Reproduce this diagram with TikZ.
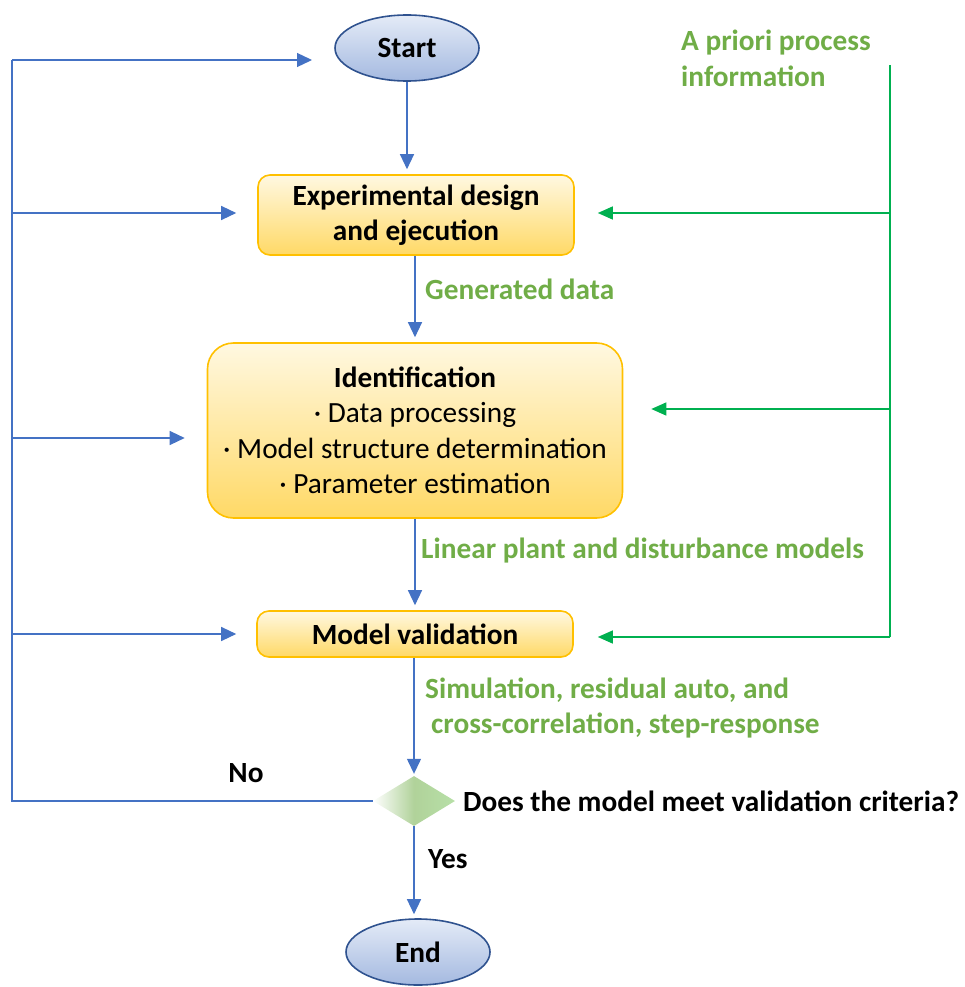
\documentclass[tikz,border=0pt]{standalone}
\usepackage{fontspec}
\setmainfont{Carlito}
\usepackage{tikz}
\usetikzlibrary{arrows.meta, shapes.geometric, positioning, calc}
\definecolor{flowblue}{HTML}{4472C4}
\definecolor{darkblue}{HTML}{2F528F}
\definecolor{priorigreen}{HTML}{00B050}
\definecolor{labelgreen}{HTML}{70AD47}
\definecolor{boxborder}{HTML}{FFC000}
\definecolor{boxtop}{HTML}{FFF8E1}
\definecolor{boxbottom}{HTML}{FFD966}
\definecolor{elltop}{HTML}{E4EBF7}
\definecolor{ellbottom}{HTML}{A4B9E0}
\newcommand{\diagfont}{\fontsize{29.3}{35.5}\selectfont}
\tikzset{
	terminal/.style={ellipse, draw=darkblue, line width=1.6pt, top color=elltop, bottom color=ellbottom,
		minimum width=144pt, minimum height=66pt, font=\diagfont\bfseries},
	stepbox/.style={rectangle, rounded corners=12pt, draw=boxborder, line width=1.6pt,
		top color=boxtop, bottom color=boxbottom, align=center, font=\diagfont\bfseries},
	decision/.style={diamond, minimum width=82pt, minimum height=50pt, inner sep=0pt,
		left color=white, right color=green!15!labelgreen!45, middle color=labelgreen!55},
	flow/.style={draw=flowblue, line width=1.3pt, -{Triangle[length=15pt,width=14pt]}, color=flowblue},
	flowline/.style={draw=flowblue, line width=1.3pt},
	gflow/.style={draw=priorigreen, line width=1.3pt, -{Triangle[length=15pt,width=13pt]}, color=priorigreen},
	gline/.style={draw=priorigreen, line width=1.3pt},
	glabel/.style={text=labelgreen, font=\diagfont\bfseries, align=left, anchor=west, inner sep=0pt},
	blabel/.style={font=\diagfont\bfseries, inner sep=0pt},
}

\begin{document}
\begin{tikzpicture}[x=1pt, y=-1pt]
\useasboundingbox (0,0) rectangle (965,987);

% main column
\node[terminal] (start) at (407,48) {Start};
\node[stepbox, minimum width=316pt, minimum height=80pt] (design) at (416,215)
	{Experimental design\\and ejecution};
\node[stepbox, rounded corners=26pt, minimum width=415pt, minimum height=175pt] (ident) at (415,430.5)
	{Identification\\{\mdseries · Data processing}\\{\mdseries · Model structure determination}\\{\mdseries · Parameter estimation}};
\node[stepbox, minimum width=316pt, minimum height=46pt] (valid) at (415,634) {Model validation};
\node[decision] (check) at (414,801) {};
\node[terminal] (stop) at (418,952) {End};

\draw[flow, shorten >=5pt] (start) -- (start |- design.north);
\draw[flow, shorten >=5pt] (design.south -| ident) -- (ident.north);
\draw[flow, shorten >=5pt] (ident.south -| valid) -- (valid.north);
\draw[flow, shorten >=2pt] (valid.south -| check) -- (check.north);
\draw[flow, shorten >=4pt] (check.south) -- (check.south |- stop.north);

% labels
\node[glabel] (gen) at (425,289) {Generated data};
\node[glabel] (lin) at (421,551) {Linear plant and disturbance models};
\node[glabel] (sim) at (425,708) {Simulation, residual auto, and\\\hspace*{6pt}cross-correlation, step-response};
\node[blabel, anchor=west] (ask) at (463,801) {Does the model meet validation criteria?};
\node[blabel] (no) at (246,773) {No};
\node[blabel, anchor=west] (yes) at (428,859) {Yes};

% feedback on the left
\coordinate (l0) at (12,60);
\coordinate (l1) at (12,213);
\coordinate (l2) at (12,438);
\coordinate (l3) at (12,634);
\draw[flowline] (check.west) -| (l0);
\draw[flow] (l0) -- (312,60);
\draw[flow, shorten >=21pt] (l1) -- (l1 -| design.west);
\draw[flow, shorten >=22pt] (l2) -- (l2 -| ident.west);
\draw[flow, shorten >=20pt] (l3) -- (l3 -| valid.west);

% a priori information on the right
\node[glabel] (prior) at (681,58.5) {A priori process\\information};
\coordinate (g0) at (890,65);
\coordinate (g1) at (890,213);
\coordinate (g2) at (890,409);
\coordinate (g3) at (890,637);
\draw[gline] (g0) -- (g3);
\draw[gflow, shorten >=23pt] (g1) -- (g1 -| design.east);
\draw[gflow, shorten >=28pt] (g2) -- (g2 -| ident.east);
\draw[gflow, shorten >=24pt] (g3) -- (g3 -| valid.east);
\end{tikzpicture}
\end{document}
